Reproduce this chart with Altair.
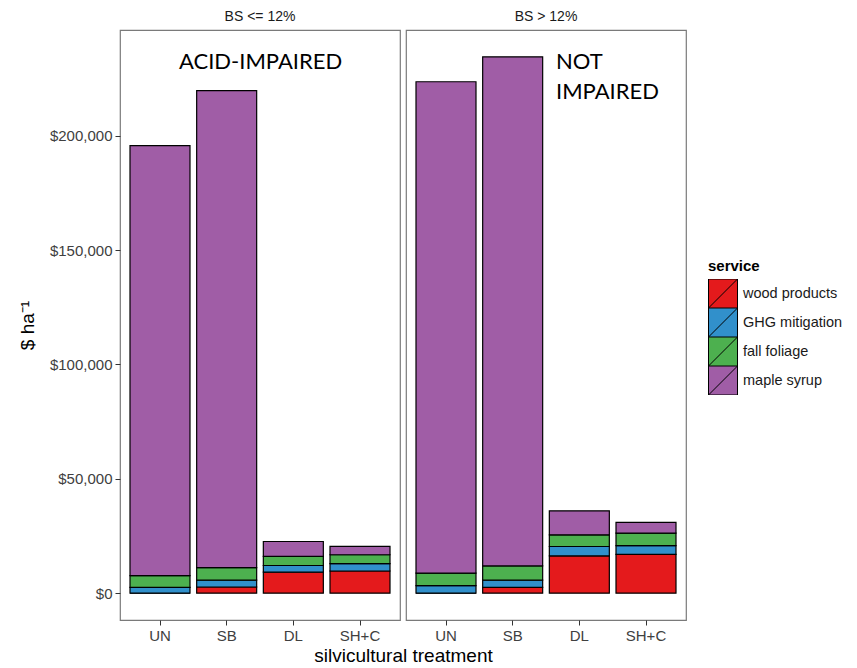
import altair as alt
import pandas as pd

# Treatments on the x axis and the ecosystem services stacked in each bar
treatments = ["UN", "SB", "DL", "SH+C"]
services = ["wood products", "GHG mitigation", "fall foliage", "maple syrup"]
service_colors = ["#E41A1C", "#3190CB", "#4DB04F", "#A05DA6"]

# Base saturation <= 12% (acid-impaired stands), $ per hectare
wood_low = [0, 2700, 9200, 9700]
ghg_low = [2500, 3000, 2900, 3200]
foliage_low = [5200, 5500, 4000, 3900]
maple_low = [188000, 208500, 6500, 3700]

# Base saturation > 12% (not impaired), $ per hectare
wood_high = [0, 2500, 16300, 17000]
ghg_high = [3300, 3200, 4100, 3800]
foliage_high = [5500, 6200, 5100, 5500]
maple_high = [214800, 222600, 10500, 4700]

y_ticks = [0, 50000, 100000, 150000, 200000]
y_domain = [-11725, 246225]

PANEL_W = 280
PANEL_H = 590
FONT = "Liberation Sans"


def long_table(wood, ghg, foliage, maple):
    rows = []
    for i, t in enumerate(treatments):
        for k, (s, vals) in enumerate(zip(services, [wood, ghg, foliage, maple])):
            rows.append({"treatment": t, "service": s, "stack_order": k, "value": vals[i]})
    return pd.DataFrame(rows)


legend = alt.Legend(
    title="service",
    orient="none",
    legendX=588,
    legendY=229,
    titleFont=FONT,
    titleFontSize=15,
    titleFontWeight="bold",
    titleColor="black",
    titlePadding=5,
    labelFont=FONT,
    labelFontSize=14.5,
    labelColor="#1a1a1a",
    labelOffset=5,
    symbolType="M-1,-1H1V1H-1Z M-1,1L1,-1",
    symbolSize=841,
    symbolStrokeColor="black",
    symbolStrokeWidth=1,
    symbolOpacity=1,
    rowPadding=0,
    clipHeight=29,
)


def panel(df, header, note, note_x, note_y, show_y, show_x_title):
    y_axis = (
        alt.Axis(
            title="$ ha⁻¹",
            values=y_ticks,
            format="$,.0f",
            grid=False,
            domain=False,
            ticks=True,
            tickSize=5,
            tickColor="#333333",
            labelFont=FONT,
            labelFontSize=15,
            labelColor="#404040",
            labelPadding=3,
            titleFont=FONT,
            titleFontSize=19,
            titleFontWeight="normal",
            titleColor="black",
            titlePadding=12,
        )
        if show_y
        else None
    )
    x_axis = alt.Axis(
        title="silvicultural treatment" if show_x_title else None,
        titleX=PANEL_W + 3,
        labelAngle=0,
        grid=False,
        domain=False,
        tickSize=5,
        tickColor="#333333",
        labelFont=FONT,
        labelFontSize=15,
        labelColor="#404040",
        labelPadding=3,
        titleFont=FONT,
        titleFontSize=19,
        titleFontWeight="normal",
        titleColor="black",
        titlePadding=3,
    )
    bars = (
        alt.Chart(df)
        .mark_bar(stroke="black", strokeWidth=1.2)
        .encode(
            x=alt.X(
                "treatment:N",
                sort=treatments,
                scale=alt.Scale(paddingInner=0.1, paddingOuter=0.15),
                axis=x_axis,
            ),
            y=alt.Y(
                "value:Q",
                stack="zero",
                scale=alt.Scale(domain=y_domain, nice=False, zero=False),
                axis=y_axis,
            ),
            color=alt.Color(
                "service:N",
                scale=alt.Scale(domain=services, range=service_colors),
                legend=legend,
            ),
            order=alt.Order("stack_order:Q"),
        )
    )
    label = (
        alt.Chart(pd.DataFrame({"note": [note]}))
        .mark_text(
            font="Lato",
            fontSize=22,
            align="left",
            baseline="top",
            color="black",
            lineBreak="\n",
            lineHeight=29.5,
        )
        .encode(text="note:N", x=alt.value(note_x), y=alt.value(note_y))
    )
    return alt.layer(bars, label).properties(
        width=PANEL_W,
        height=PANEL_H,
        title=alt.TitleParams(
            header,
            font=FONT,
            fontSize=14,
            fontWeight="normal",
            color="#1a1a1a",
            anchor="middle",
            offset=6,
        ),
    )


left = panel(
    long_table(wood_low, ghg_low, foliage_low, maple_low),
    "BS <= 12%", "ACID-IMPAIRED", 59, 22, True, True,
)
right = panel(
    long_table(wood_high, ghg_high, foliage_high, maple_high),
    "BS > 12%", "NOT\nIMPAIRED", 150, 22, False, False,
)

chart = (
    alt.hconcat(left, right, spacing=6, bounds="flush")
    .resolve_scale(color="shared")
    .properties(
        background="white",
        padding={"left": 17, "top": 9, "right": 5, "bottom": 5},
    )
    .configure_view(stroke="#7a7a7a", strokeWidth=1.2)
)

chart.save("out.html", embed_options={"renderer": "svg", "actions": False})
